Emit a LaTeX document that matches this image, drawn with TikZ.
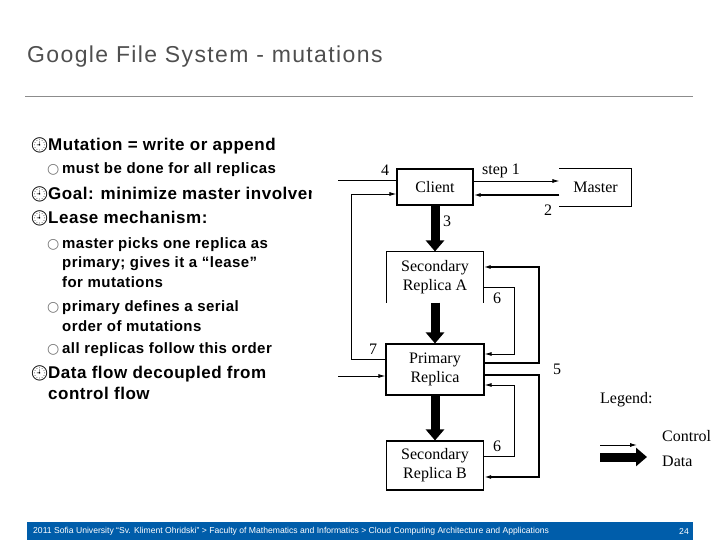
\documentclass[tikz,border=0pt]{standalone}
\usepackage{fontspec}
\setmainfont{Liberation Sans}
\newfontfamily\titlefont[LetterSpace=6]{Liberation Sans}
\newfontfamily\slidefont[LetterSpace=3]{Liberation Sans}
\newfontfamily\figfont{Liberation Serif}
\newfontfamily\symfont{DejaVu Sans}
\newfontfamily\emofont{Noto Emoji}
\usetikzlibrary{arrows.meta}
\definecolor{sutitle}{HTML}{4F4F4F}
\definecolor{surule}{HTML}{8C8C8C}
\definecolor{subar}{HTML}{005DAA}
\definecolor{subullet}{HTML}{707070}

\begin{document}
\begin{tikzpicture}[x=1pt,y=-1pt,
  maintxt/.style={anchor=base west, inner sep=0, align=left, font=\slidefont\bfseries\fontsize{17}{21}\selectfont},
  subtxt/.style={anchor=base west, inner sep=0, align=left, font=\slidefont\bfseries\fontsize{15}{19.5}\selectfont},
  mainbul/.style={anchor=base west, inner sep=0, font=\emofont\fontsize{15}{15}\selectfont},
  subbul/.style={anchor=base west, inner sep=0, text=subullet, font=\symfont\fontsize{14}{14}\selectfont},
  box/.style={draw, line width=1.1pt, inner sep=0, align=center, font=\figfont\fontsize{16}{19}\selectfont},
  lbl/.style={inner sep=0, font=\figfont\fontsize{16}{16}\selectfont},
  ctrl/.style={-{Latex[length=7pt,width=4pt]}, line width=0.9pt},
  ctrlb/.style={ctrl, line width=1.8pt},
  data/.style={-{Triangle[length=11pt,width=18pt]}, line width=9pt}]
  \useasboundingbox (0,0) rectangle (720,540);

  % title and rule
  \node[anchor=base west, inner sep=0, text=sutitle, font=\titlefont\fontsize{23}{23}\selectfont] (title) at (27,63) {Google File System - mutations};
  \draw[surule, line width=1pt] (25,97) -- (693,97);

  % bullets (multi-line nodes sit on their last line)
  \node[mainbul] (b1) at (30,151) {🕘};
  \node[maintxt] (t1) at (48,151) {Mutation = write or append};
  \node[subbul] (s1) at (47,174) {○};
  \node[subtxt] (u1) at (62,174) {must be done for all replicas};
  \node[mainbul] (b2) at (30,200) {🕘};
  \begin{scope}
    \clip (0,185) rectangle (311,215);
    \node[maintxt] (t2) at (48,200) {Goal: minimize master involvement};
  \end{scope}
  \node[mainbul] (b3) at (30,223) {🕘};
  \node[maintxt] (t3) at (48,223) {Lease mechanism:};
  \node[subbul] (s2) at (47,248) {○};
  \node[subtxt] (u2) at (62,287) {master picks one replica as\\primary; gives it a “lease”\\for mutations};
  \node[subbul] (s3) at (47,311) {○};
  \node[subtxt] (u3) at (62,331) {primary defines a serial\\order of mutations};
  \node[subbul] (s4) at (47,353) {○};
  \node[subtxt] (u4) at (62,353) {all replicas follow this order};
  \node[mainbul] (b4) at (30,378) {🕘};
  \node[maintxt] (t4) at (48,399) {Data flow decoupled from\\control flow};

  % boxes
  \node[box, minimum width=76pt, minimum height=36pt] (client) at (435,187) {Client};
  \node[box, draw=none, minimum width=71pt, minimum height=36.5pt] (master) at (595.5,187.5) {Master};
  \draw[line width=1.1pt] (master.north west) -- (master.north east) -- (master.south east) -- (master.south west);
  \node[box, draw=none, minimum width=96pt, minimum height=50pt] (secA) at (435,277) {Secondary\\Replica A};
  \draw[line width=1.1pt] (secA.south west) -- (secA.north west) -- (secA.north east) -- (secA.south east);
  \node[box, minimum width=98pt, minimum height=51pt] (primary) at (435,369.5) {Primary\\Replica};
  \node[box, minimum width=97pt, minimum height=49pt] (secB) at (435,465.5) {Secondary\\Replica B};

  % data flow
  \draw[data] (client) -- (secA);
  \draw[data] (secA) -- (primary);
  \draw[data] (primary) -- (secB);

  % control flow
  \coordinate (cs1) at ([yshift=6pt]client.east);
  \draw[ctrl] (cs1) -- (cs1 -| master.west);
  \coordinate (cs2) at ([yshift=-7.5pt]master.west);
  \draw[ctrlb] (cs2) -- (cs2 -| client.east);
  \coordinate (c4a) at (338,180);
  \draw[line width=0.9pt] (c4a -| client.west) -- (c4a);
  \coordinate (c4b) at (338,376);
  \draw[ctrl] (c4b) -- (c4b -| primary.west);
  \coordinate (c7a) at (351,359);
  \coordinate (c7b) at (351,194);
  \draw[ctrl] (c7a -| primary.west) -- (c7a) -- (c7b) -- (c7b -| client.west);
  \coordinate (c5a) at (539,363);
  \coordinate (c5b) at (539,267);
  \draw[ctrlb] (c5a -| primary.east) -- (c5a) -- (c5b) -- (c5b -| secA.east);
  \coordinate (c5c) at (539,375);
  \coordinate (c5d) at (539,477);
  \draw[ctrlb] (c5c -| primary.east) -- (c5c) -- (c5d) -- (c5d -| secB.east);
  \coordinate (c6a) at (514,287);
  \coordinate (c6b) at (514,354);
  \draw[ctrl] (c6a -| secA.east) -- (c6a) -- (c6b) -- (c6b -| primary.east);
  \coordinate (c6c) at (514,456);
  \coordinate (c6d) at (514,385);
  \draw[ctrl] (c6c -| secB.east) -- (c6c) -- (c6d) -- (c6d -| primary.east);

  % step labels
  \node[lbl] (n1) at (501,171) {step 1};
  \node[lbl] (n2) at (548,210) {2};
  \node[lbl] (n3) at (447,221) {3};
  \node[lbl] (n4) at (385,170) {4};
  \node[lbl] (n5) at (557,369) {5};
  \node[lbl] (n6a) at (497,298) {6};
  \node[lbl] (n6b) at (497,446) {6};
  \node[lbl] (n7) at (373,349) {7};

  % legend
  \node[lbl, anchor=west] (leg) at (600,400) {Legend:};
  \node[lbl, anchor=west] (legc) at (662,436) {Control};
  \node[lbl, anchor=west] (legd) at (662,461) {Data};
  \coordinate (lc1) at (600,445);
  \coordinate (lc2) at (637,445);
  \draw[ctrl] (lc1) -- (lc2);
  \coordinate (ld1) at (600,457);
  \coordinate (ld2) at (647,457);
  \draw[data] (ld1) -- (ld2);

  % footer
  \fill[subar] (27,522) rectangle (693,540);
  \node[anchor=west, inner sep=0, text=white, font=\fontsize{8.6}{9}\selectfont] (foot) at (33,531.5) {2011 Sofia University “Sv. Kliment Ohridski” > Faculty of Mathematics and Informatics > Cloud Computing Architecture and Applications};
  \node[inner sep=0, text=white, font=\fontsize{8.6}{9}\selectfont] (page) at (684,531.5) {24};
\end{tikzpicture}
\end{document}
